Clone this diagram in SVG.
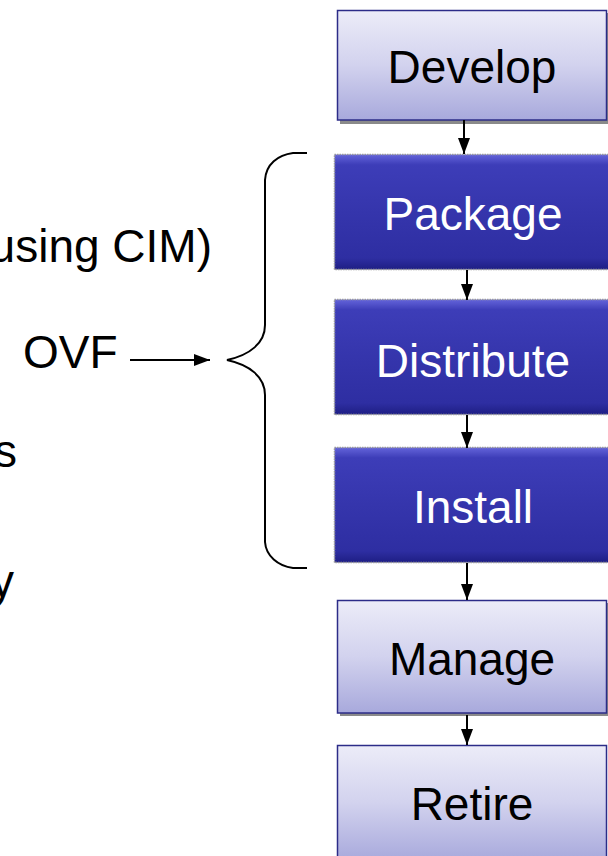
<svg xmlns="http://www.w3.org/2000/svg" width="608" height="856" viewBox="0 0 608 856">
<defs>
<linearGradient id="light" x1="0" y1="0" x2="0" y2="1">
<stop offset="0" stop-color="#ececf8"/>
<stop offset="0.5" stop-color="#d2d2ee"/>
<stop offset="1" stop-color="#a8a9dc"/>
</linearGradient>
<linearGradient id="dark" x1="0" y1="0" x2="0" y2="1">
<stop offset="0" stop-color="#6464da"/>
<stop offset="0.09" stop-color="#3d3db8"/>
<stop offset="0.5" stop-color="#3535ac"/>
<stop offset="0.9" stop-color="#2e2ea2"/>
<stop offset="1" stop-color="#1e1e84"/>
</linearGradient>
<marker id="ah" viewBox="0 0 16 12" refX="16" refY="6" markerWidth="16" markerHeight="12" markerUnits="userSpaceOnUse" orient="auto">
<path d="M0,0 L16,6 L0,12 Z" fill="#000"/>
</marker>
<style>
.lb{fill:url(#light);stroke:#2c2c88;stroke-width:1.5}
.sh{fill:#8a8a8a}
.db{fill:url(#dark);stroke:#9a9a9a;stroke-width:1.5;stroke-dasharray:1.5 1}
.lt{font-family:"Liberation Sans",Arial,sans-serif;font-size:46px;fill:#000;text-anchor:middle}
.dt{font-family:"Liberation Sans",Arial,sans-serif;font-size:46px;fill:#fff;text-anchor:middle}
.tx{font-family:"Liberation Sans",Arial,sans-serif;font-size:46px;fill:#000}
.con{stroke:#000;stroke-width:2;fill:none}
</style>
</defs>
<rect width="608" height="856" fill="#fff"/>

<g id="left-text">
<text class="tx" x="212" y="262" text-anchor="end">using CIM)</text>
<text class="tx" x="17" y="467" text-anchor="end">s</text>
<text class="tx" x="14" y="597" text-anchor="end">y</text>
</g>

<g id="ovf">
<text class="tx" x="23" y="368">OVF</text>
</g>

<g id="brace">
<path class="con" d="M307,153 H293 C278,155 266,164 265,180 V325 C265,343 250,355 227,360 C250,365 265,377 265,395 V542 C266,556 278,566 293,568 H307"/>
</g>

<g id="develop">
<rect class="sh" x="340" y="13" width="268" height="111"/>
<rect class="lb" x="337.5" y="10.5" width="269" height="109.5"/>
<text class="lt" x="472" y="83">Develop</text>
</g>

<g id="package">
<rect class="db" x="334.5" y="154.5" width="275" height="115"/>
<text class="dt" x="473" y="230">Package</text>
</g>

<g id="distribute">
<rect class="db" x="334.5" y="299.5" width="275" height="115"/>
<text class="dt" x="473" y="377">Distribute</text>
</g>

<g id="install">
<rect class="db" x="334.5" y="447.5" width="275" height="115"/>
<text class="dt" x="473" y="523">Install</text>
</g>

<g id="manage">
<rect class="sh" x="340" y="603" width="268" height="113"/>
<rect class="lb" x="337.5" y="600.5" width="269" height="112.5"/>
<text class="lt" x="472" y="675">Manage</text>
</g>

<g id="retire">
<rect class="lb" x="337.5" y="745.5" width="269" height="115"/>
<text class="lt" x="472" y="820">Retire</text>
</g>

<g id="connectors">
<line class="con" x1="464" y1="120" x2="464" y2="154" marker-end="url(#ah)"/>
<line class="con" x1="467" y1="270" x2="467" y2="300" marker-end="url(#ah)"/>
<line class="con" x1="467" y1="415" x2="467" y2="448" marker-end="url(#ah)"/>
<line class="con" x1="467" y1="563" x2="467" y2="600" marker-end="url(#ah)"/>
<line class="con" x1="467" y1="715" x2="467" y2="745" marker-end="url(#ah)"/>
<line class="con" x1="130" y1="360" x2="210" y2="360" marker-end="url(#ah)"/>
</g>
</svg>
